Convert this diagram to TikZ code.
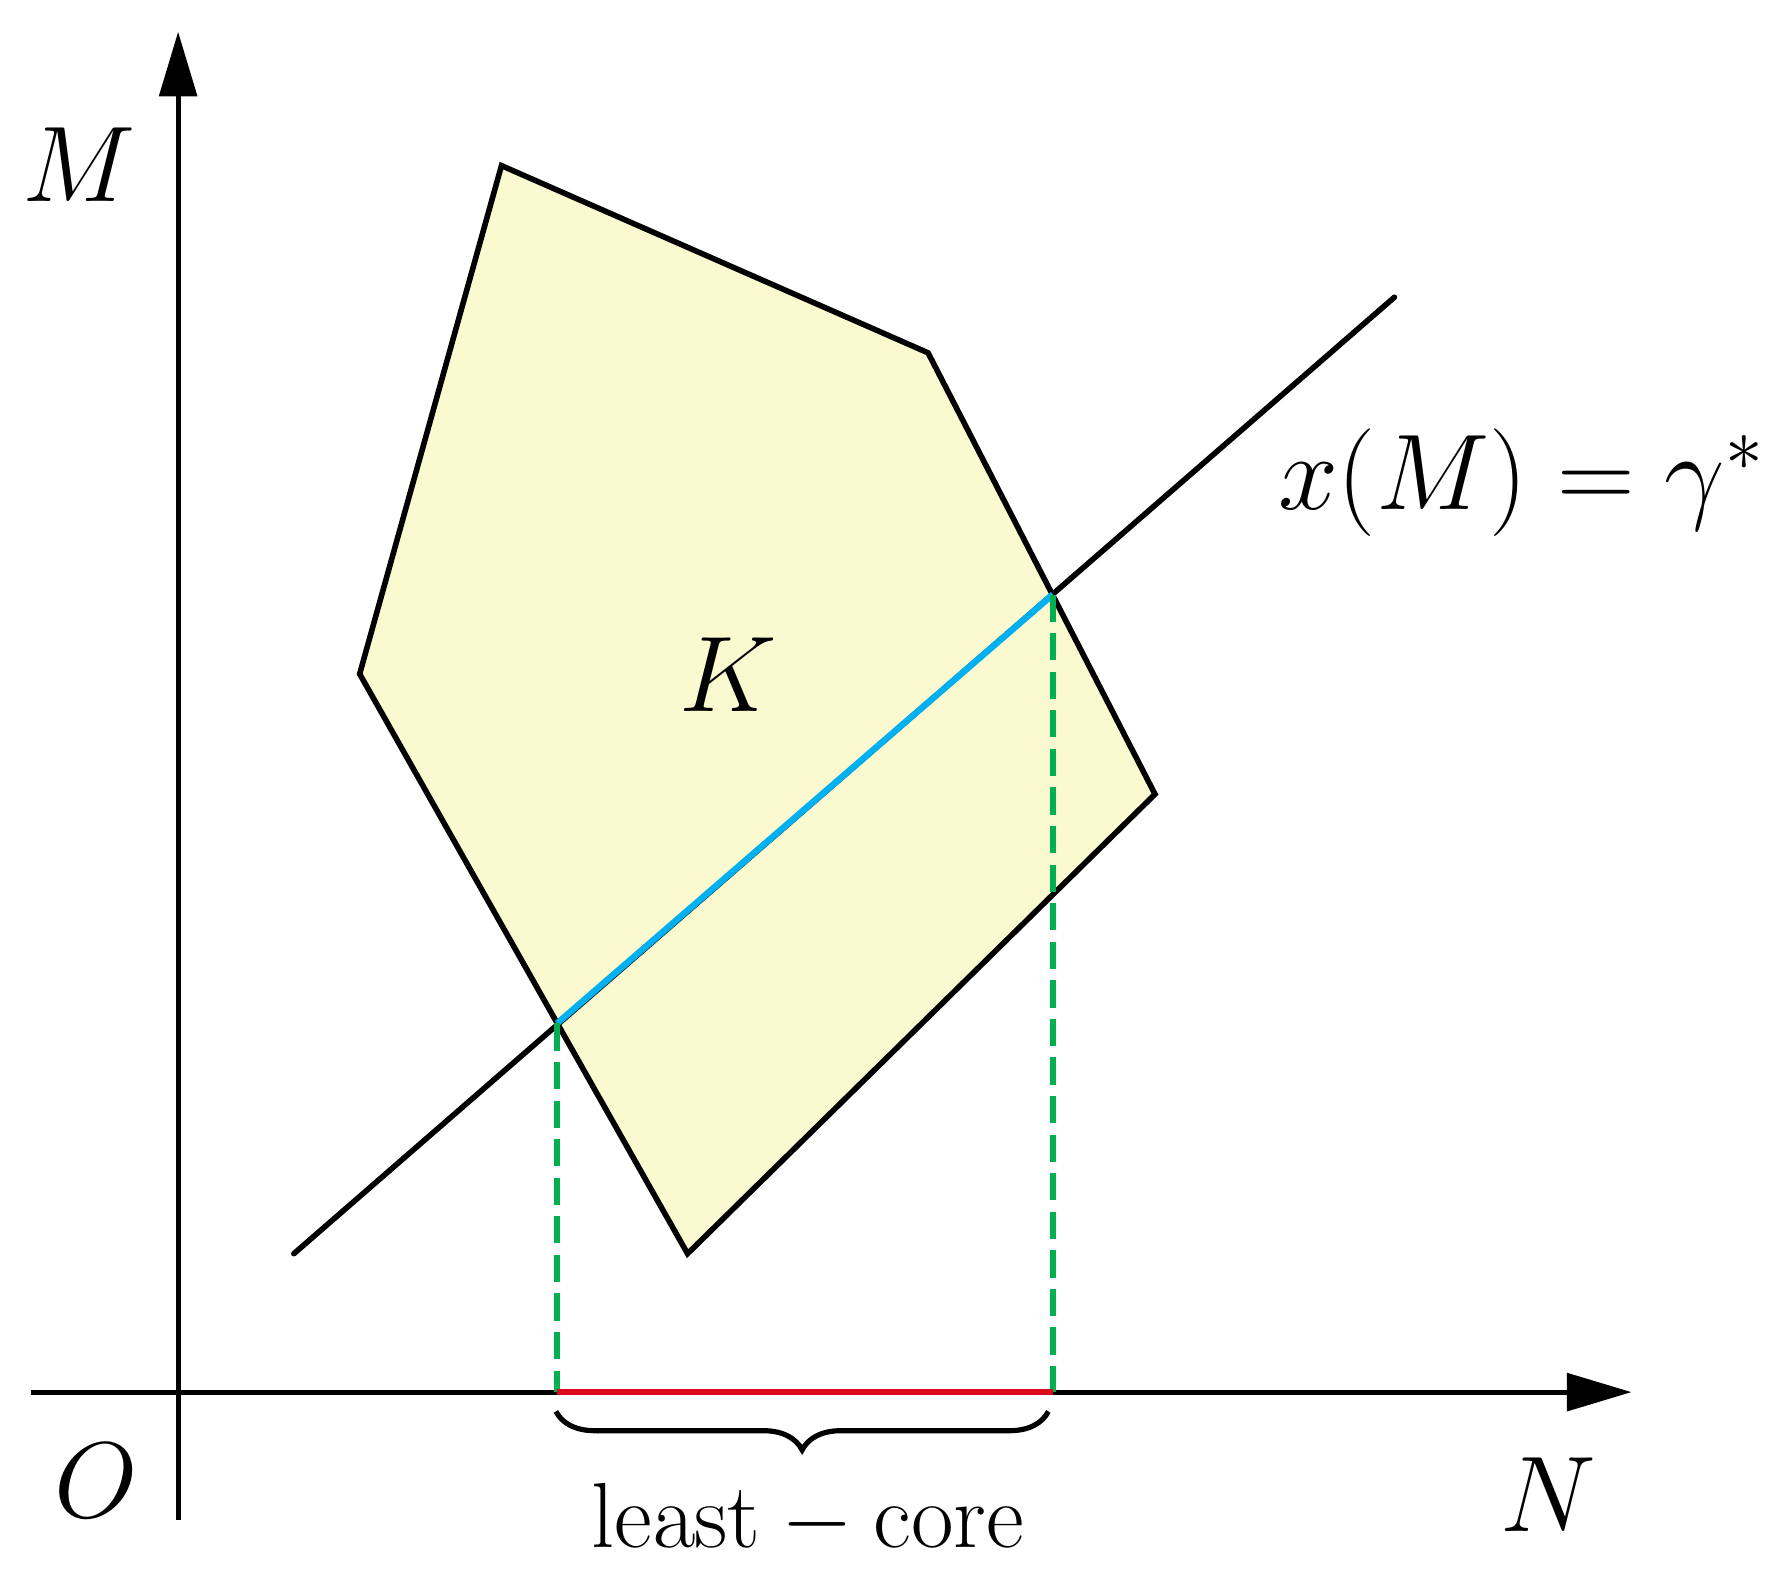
\RequirePackage{fix-cm}
\documentclass[tikz,border=0pt]{standalone}
\usepackage{tikz}
\usetikzlibrary{arrows.meta,decorations.pathreplacing}
\definecolor{region}{HTML}{FBF9CF}
\definecolor{projgreen}{HTML}{00B050}
\definecolor{coreblue}{HTML}{00B0F0}
\definecolor{leastred}{HTML}{DC0A1E}
\tikzset{
    axisarrow/.style={-{Triangle[length=5.7mm, width=3.3mm]}, line width=1.2pt},
    hullline/.style={line width=1.4pt, line join=miter},
    projdash/.style={line width=1.6pt, color=projgreen, dash pattern=on 0.24cm off 0.10cm},
    bigmath/.style={font=\fontsize{27}{32}\selectfont},
    bracelabel/.style={font=\fontsize{23.2}{28}\selectfont}
}

\begin{document}
\begin{tikzpicture}
\useasboundingbox (0,0) rectangle (15.68,13.94);

% Region K
\coordinate (ka) at (4.42,12.48);
\coordinate (kb) at (8.18,10.83);
\coordinate (kc) at (10.18,6.94);
\coordinate (kd) at (6.06,2.89);
\coordinate (ke) at (3.17,8.00);
\draw[hullline, fill=region] (ka) -- (kb) -- (kc) -- (kd) -- (ke) -- cycle;
\node[bigmath] (klabel) at (6.42,7.99) {$K$};

% Axes
\coordinate (xstart) at (0.27,1.67);
\coordinate (xend) at (14.38,1.67);
\coordinate (ystart) at (1.57,0.54);
\coordinate (yend) at (1.57,13.66);
\draw[axisarrow] (xstart) -- (xend);
\draw[axisarrow] (ystart) -- (yend);
\node[bigmath] (mlabel) at (0.70,12.49) {$M$};
\node[bigmath] (nlabel) at (13.65,0.77) {$N$};
\node[bigmath] (olabel) at (0.85,0.89) {$O$};

% Line x(M) = gamma*
\coordinate (lstart) at (2.59,2.89);
\coordinate (lend) at (12.29,11.32);
\coordinate (pl) at (4.91,4.92);
\coordinate (pr) at (9.28,8.70);
\draw[hullline, line cap=round] (lstart) -- (lend);
\draw[line width=1.6pt, coreblue] (pl) -- (pr);
\node[bigmath] (gammalabel) at (13.41,9.69) {$x(M)=\gamma^*$};

% Projections onto N
\coordinate (ql) at (4.91,1.67);
\coordinate (qr) at (9.28,1.67);
\draw[projdash] (pl) -- (ql);
\draw[projdash] (pr) -- (qr);
\draw[line width=1.6pt, leastred] (ql) -- (qr);

% Least core brace
\coordinate (bl) at (4.90,1.50);
\coordinate (br) at (9.24,1.50);
\draw[line width=1.3pt, decorate, decoration={brace, mirror, amplitude=0.34cm}] (bl) -- (br);
\node[bracelabel] (corelabel) at (7.12,0.55) {$\mathrm{least-core}$};

\end{tikzpicture}
\end{document}
